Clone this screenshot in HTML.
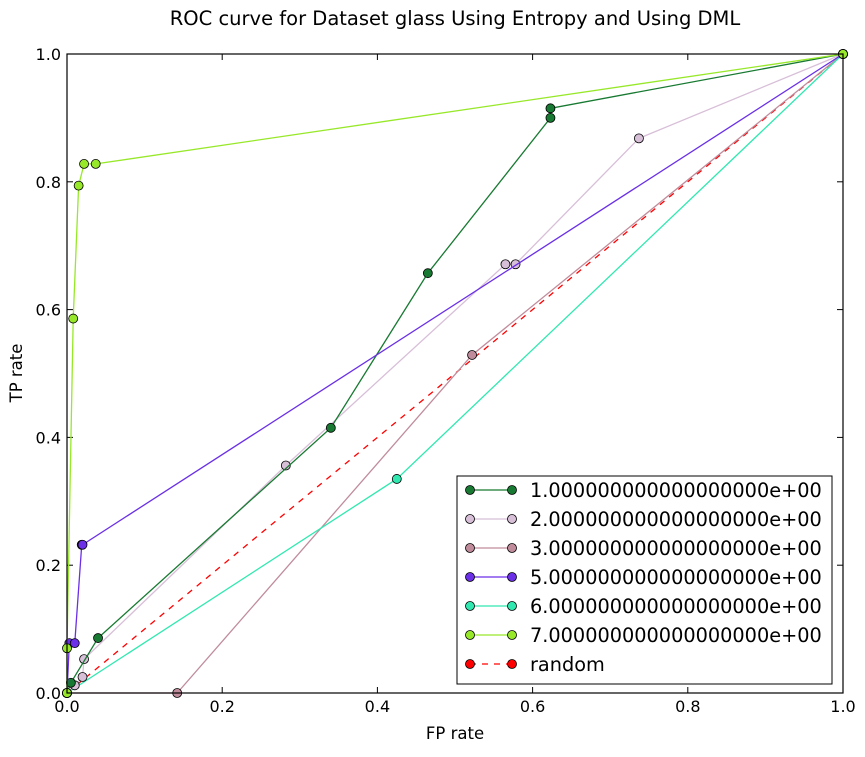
<!DOCTYPE html>
<html><head><meta charset="utf-8"><style>
body{margin:0;background:#fff;font-family:"Liberation Sans",sans-serif;}
svg text{font-family:"DejaVu Sans","Liberation Sans",sans-serif;}
</style></head><body>
<svg id="c" width="865" height="752" xmlns="http://www.w3.org/2000/svg">
<rect width="865" height="752" fill="#fff"/>
<text x="455" y="25" font-size="19.5" text-anchor="middle">ROC curve for Dataset glass Using Entropy and Using DML</text>
<text x="455" y="739" font-size="16.5" text-anchor="middle">FP rate</text>
<text x="22" y="373" font-size="16.5" text-anchor="middle" transform="rotate(-90 22 373)">TP rate</text>
<g id="ticks"></g>
<g id="series"></g>
<rect x="67" y="54" width="776" height="639" fill="none" stroke="#000" stroke-width="1.2"/>
<g id="legend"></g>
</svg>
<script>
const xTicks=[0,0.2,0.4,0.6,0.8,1.0];
const yTicks=[0,0.2,0.4,0.6,0.8,1.0];
const names=["1.000000000000000000e+00","2.000000000000000000e+00","3.000000000000000000e+00","5.000000000000000000e+00","6.000000000000000000e+00","7.000000000000000000e+00","random"];
const colors=["#187a32","#d8bfd8","#c08c9c","#6a2fe6","#30e8b0","#98e82a","#ff0000"];
const fp1=[0,0.005,0.04,0.34,0.465,0.623,0.623,1],tp1=[0,0.016,0.086,0.415,0.657,0.9,0.915,1];
const fp2=[0,0.01,0.02,0.022,0.282,0.565,0.578,0.737,1],tp2=[0,0.012,0.025,0.053,0.356,0.671,0.671,0.868,1];
const fp3=[0,0.142,0.522,1],tp3=[0,0,0.529,1];
const fp5=[0,0.003,0.01,0.019,0.02,1],tp5=[0,0.078,0.078,0.232,0.232,1];
const fp6=[0,0.425,1],tp6=[0,0.335,1];
const fp7=[0,0,0.008,0.015,0.022,0.037,1],tp7=[0,0.07,0.586,0.794,0.828,0.828,1];
const fpR=[0,1],tpR=[0,1];
const NS="http://www.w3.org/2000/svg";
const X=v=>67+776*v, Y=v=>693-639*v;
function mk(t,a,p){const e=document.createElementNS(NS,t);for(const k in a)e.setAttribute(k,a[k]);p.appendChild(e);return e;}
const tg=document.getElementById('ticks');
xTicks.forEach(v=>{
 const l=mk('line',{x1:X(v),x2:X(v),y1:693,y2:687,stroke:'#000'},tg);
 
 
 mk('line',{x1:X(v),x2:X(v),y1:54,y2:60,stroke:'#000'},tg);
 const t=mk('text',{x:X(v),y:712,'font-size':16,'text-anchor':'middle'},tg);t.textContent=v.toFixed(1);
 
 
});
yTicks.forEach(v=>{
 const l=mk('line',{x1:67,x2:73,y1:Y(v),y2:Y(v),stroke:'#000'},tg);
 
 
 mk('line',{x1:843,x2:837,y1:Y(v),y2:Y(v),stroke:'#000'},tg);
 const t=mk('text',{x:61,y:Y(v)+6,'font-size':16,'text-anchor':'end'},tg);t.textContent=v.toFixed(1);
 
 
});
const sg=document.getElementById('series');
const data=[[fp1,tp1],[fp2,tp2],[fp3,tp3],[fp5,tp5],[fp6,tp6],[fp7,tp7],[fpR,tpR]];
const order=[6,2,4,1,0,3,5];
order.forEach(i=>{
 const [fx,ty]=data[i];
 const g=mk('g',{},sg);
 
 
 const pts=fx.map((v,j)=>X(v)+','+Y(ty[j])).join(' ');
 const pl=mk('polyline',{points:pts,fill:'none',stroke:colors[i],'stroke-width':1.3},g);
 if(i==6)pl.setAttribute('stroke-dasharray','6,6');
 
 
 fx.forEach((v,j)=>{
  const c=mk('circle',{cx:X(v),cy:Y(ty[j]),r:4.5,fill:colors[i],stroke:'#000','stroke-width':0.8},g);
  
  
 });
});
const lg=document.getElementById('legend');
const box=mk('rect',{x:457,y:476,width:375,height:208,fill:'#fff',stroke:'#000','stroke-width':1},lg);


names.forEach((n,i)=>{
 const y=490+i*29;
 const g=mk('g',{},lg);
 
 
 const l=mk('line',{x1:470,x2:512,y1:y,y2:y,stroke:colors[i],'stroke-width':1.3},g);
 if(i==6)l.setAttribute('stroke-dasharray','6,6');
 mk('circle',{cx:470,cy:y,r:4.5,fill:colors[i],stroke:'#000','stroke-width':0.8},g);
 mk('circle',{cx:512,cy:y,r:4.5,fill:colors[i],stroke:'#000','stroke-width':0.8},g);
 const t=mk('text',{x:530,y:y+7,'font-size':19.3},g);t.textContent=n;
});
</script>
</body></html>
